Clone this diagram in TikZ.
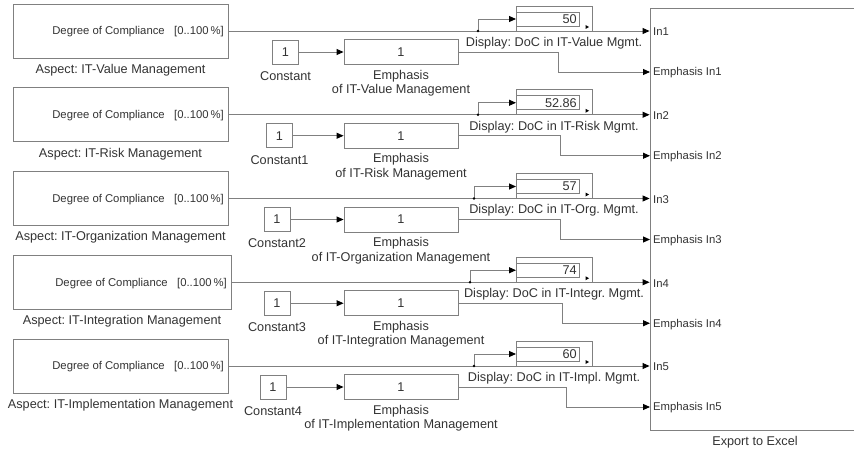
\documentclass[tikz,border=0pt]{standalone}
\usepackage{fontspec}
\setmainfont{Liberation Sans}
\usetikzlibrary{arrows.meta}

\tikzset{
  blk/.style={draw=black!50, line width=0.9pt, inner sep=0pt, fill=white},
  wire/.style={draw=black!50, line width=0.9pt},
  sig/.style={wire, -{Triangle[length=7pt,width=6pt,color=black,fill=black]}},
  big/.style={font=\fontsize{12.7}{14.5}\selectfont, text=black!80, inner sep=0pt},
  small/.style={font=\fontsize{11.3}{13}\selectfont, text=black!80, inner sep=0pt},
}

\begin{document}
\frenchspacing
\begin{tikzpicture}[x=1pt,y=1pt,yscale=-1]
\useasboundingbox (0,0) rectangle (854,452);
\clip (0,0) rectangle (854,452);

%Block: Export to Excel
\node[blk, minimum width=210, minimum height=422] (exp) at (755,219) {};
\node[big] (expl) at (755,442) {Export to Excel};

%Rows: aspect, constant, emphasis, display
\foreach \k/\asp/\dsp/\val/\cn/\cx/\bx/\mx/\aw in {
  1/Value/Value/50/Constant/285.5/478/558/215,
  2/Risk/Risk/52.86/Constant1/279.5/478/560/215,
  3/Organization/Org./57/Constant2/277/474/560/215,
  4/Integration/Integr./74/Constant3/277/470/562/218,
  5/Implementation/Impl./60/Constant4/273/474/566/215}
{
  \pgfmathsetmacro\cy{31+83.75*(\k-1)}

  % aspect subsystem
  \node[blk, minimum width=\aw, minimum height=54] (asp\k) at (13+\aw/2,\cy) {};
  \node[small, anchor=east] (doc\k) at (9+\aw,\cy+1) {Degree of Compliance\ \ \ [0..100\,\%]};
  \node[big] (aspl\k) at (13+\aw/2,\cy+39) {Aspect: IT-\asp\ Management};

  % constant and emphasis
  \node[blk, big, minimum width=26, minimum height=24] (con\k) at (\cx,\cy+21) {1};
  \node[big] (conl\k) at (\cx,\cy+45) {\cn};
  \node[blk, big, minimum width=114, minimum height=25] (emp\k) at (401,\cy+21) {1};
  \node[big, align=center] (empl\k) at (401,\cy+52) {Emphasis\\of IT-\asp\ Management};

  % display
  \node[blk, minimum width=76, minimum height=25] (dsp\k) at (554,\cy-12.5) {};
  \node[blk, minimum width=63, minimum height=14, anchor=west] (dv\k) at (516,\cy-12) {};
  \node[big, anchor=east] (val\k) at (577,\cy-12) {\val};
  \node[big] (dspl\k) at (554,\cy+12) {Display: DoC in IT-\dsp\ Mgmt.};
  \fill (589,\cy-4) -- ++(-3.5,-2) -- ++(0,4) -- cycle;

  % ports of export block
  \node[small, anchor=west] (in\k) at (653,\cy+1) {In\k};
  \node[small, anchor=west] (ein\k) at (653,\cy+42) {Emphasis In\k};
  \coordinate (ep\k) at (650,\cy+41);
  \coordinate (br\k) at (\bx,\cy);
  \coordinate (dr\k) at (\mx,\cy+21);

  % signals
  \draw[sig] (asp\k) -- (asp\k -| exp.west);
  \draw[sig] (con\k) -- (emp\k);
  \draw[sig] (emp\k) -- (dr\k) |- (ep\k);
  \draw[sig] (br\k) |- (dv\k.west);
  \fill (br\k) circle (1.4);
}

\end{tikzpicture}
\end{document}
